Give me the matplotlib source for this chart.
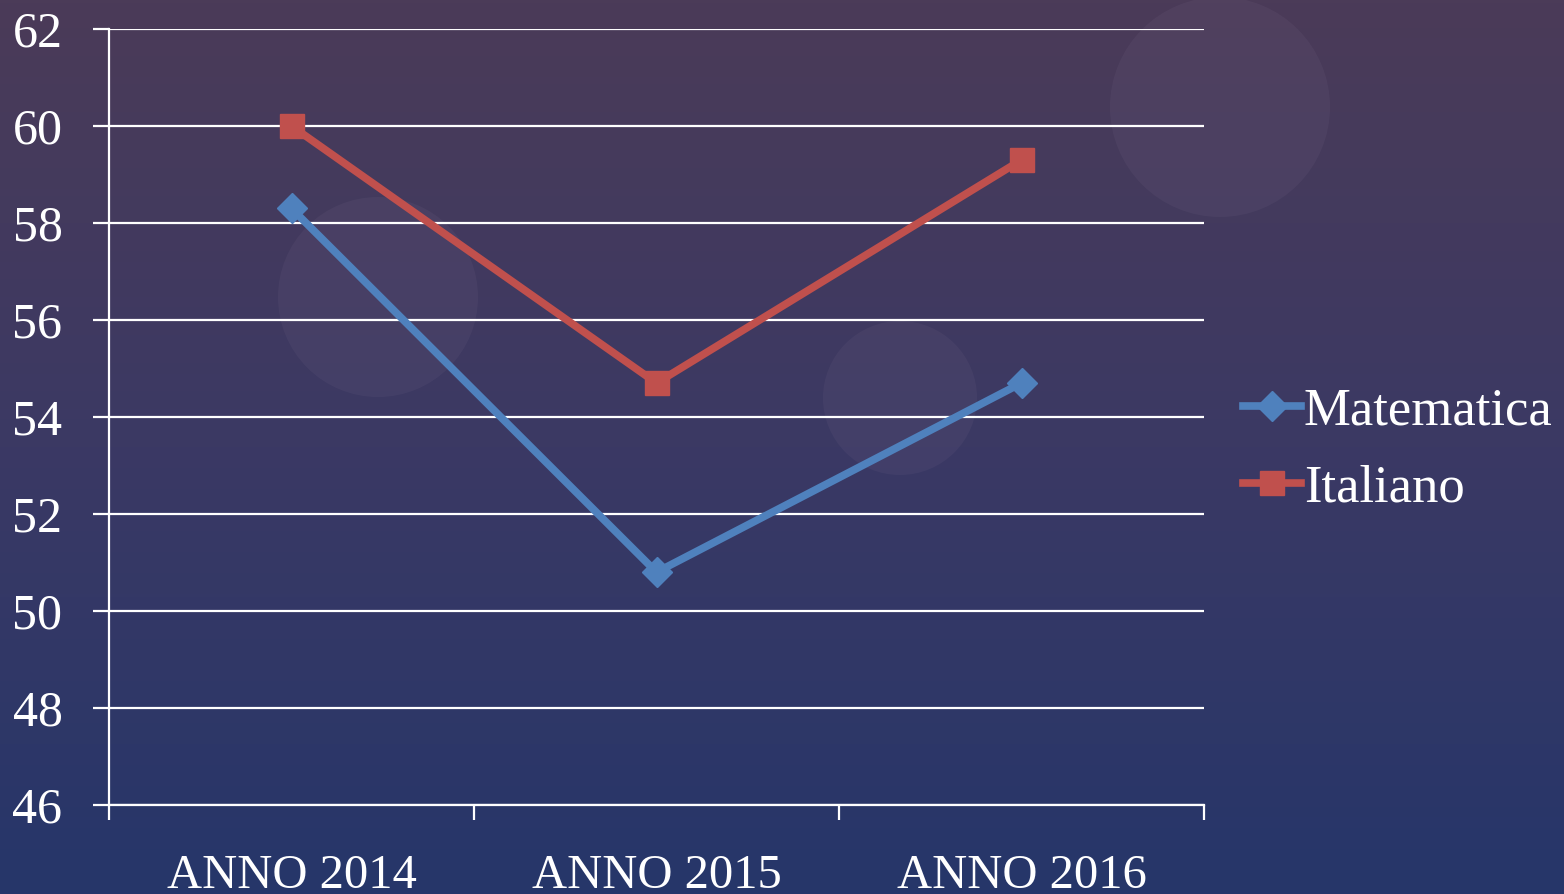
import numpy as np
import matplotlib
matplotlib.use("Agg")
import matplotlib.pyplot as plt
from matplotlib.patches import Circle
from matplotlib.colors import LinearSegmentedColormap

categories = ["ANNO 2014", "ANNO 2015", "ANNO 2016"]
matematica = [58.3, 50.8, 54.7]
italiano = [60.0, 54.7, 59.3]
yticks = [46, 48, 50, 52, 54, 56, 58, 60, 62]

W, H, DPI = 1564, 894, 100
fig = plt.figure(figsize=(W / DPI, H / DPI), dpi=DPI)

# background gradient
bg = fig.add_axes([0, 0, 1, 1], zorder=-5)
cmap = LinearSegmentedColormap.from_list("bg", ["#4b3b58", "#3b3964", "#26366a"])
grad = np.linspace(0, 1, 256).reshape(-1, 1)
bg.imshow(grad, aspect="auto", cmap=cmap, extent=[0, W, H, 0])
for (cx, cy, r) in [(1220, 107, 110), (378, 297, 100), (900, 398, 77)]:
    bg.add_patch(Circle((cx, cy), r, facecolor="#8a7a9a", alpha=0.10, edgecolor="none"))
bg.set_xlim(0, W)
bg.set_ylim(H, 0)
bg.axis("off")

ax = fig.add_axes([109 / W, 1 - 805 / H, (1204 - 109) / W, (805 - 29) / H])
ax.set_facecolor("none")
fam = ["Liberation Serif", "DejaVu Serif"]

x = np.arange(len(categories))
ax.plot(x, matematica, color="#4f81bd", lw=5.5, marker="D", ms=15, label="Matematica",
        solid_joinstyle="miter", zorder=3, clip_on=False)
ax.plot(x, italiano, color="#c0504d", lw=5.5, marker="s", ms=17, label="Italiano",
        solid_joinstyle="miter", zorder=3, clip_on=False)

ax.set_ylim(46, 62)
ax.set_xlim(-0.5, 2.5)
ax.set_yticks(yticks)
ax.set_yticklabels([str(v) for v in yticks], fontfamily=fam, fontsize=36, color="white")
ax.yaxis.grid(True, color="white", lw=1.6)
ax.set_axisbelow(True)

ax.set_xticks([-0.5, 0.5, 1.5, 2.5])
ax.set_xticklabels([])
ax.set_xticks(x, minor=True)
ax.set_xticklabels(categories, minor=True, fontfamily=fam, fontsize=35, color="white")
ax.tick_params(axis="x", which="major", length=11, width=1.6, color="white", direction="out")
ax.tick_params(axis="x", which="minor", length=0, pad=35)
ax.tick_params(axis="y", length=11.5, width=1.6, color="white", pad=22)

for s in ["top", "right"]:
    ax.spines[s].set_visible(False)
for s in ["left", "bottom"]:
    ax.spines[s].set_color("white")
    ax.spines[s].set_linewidth(1.6)

leg = fig.legend(loc="center left", bbox_to_anchor=(1243 / W, 1 - 450 / H),
                 frameon=False, prop={"family": fam, "size": 38},
                 handlelength=1.1, handletextpad=0.05, labelspacing=0.55,
                 borderpad=0, borderaxespad=0)
for t in leg.get_texts():
    t.set_color("white")

fig.savefig("out.png", dpi=DPI)
